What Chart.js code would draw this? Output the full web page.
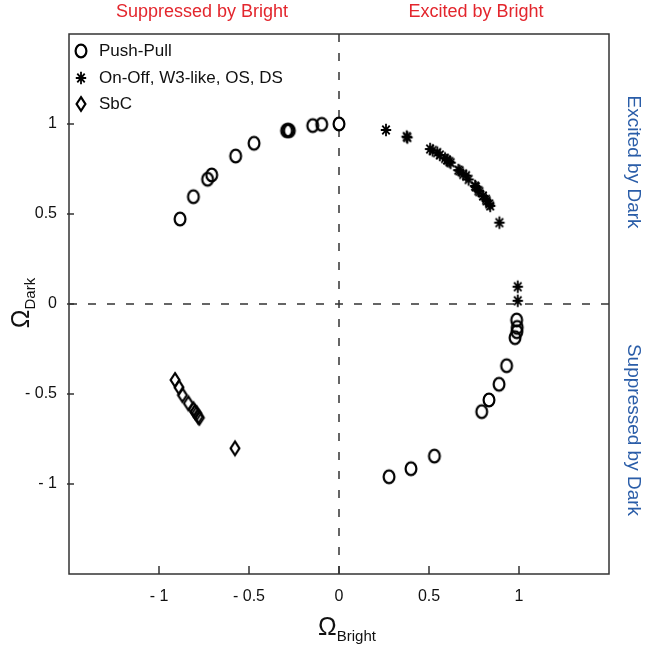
<!DOCTYPE html>
<html lang="en">
<head>
    <meta charset="UTF-8">
    <title>Omega Bright vs Dark</title>
    <script src="https://cdn.jsdelivr.net/npm/chart.js"></script>
    <style>
        body { margin: 0; padding: 0; background: #fff; }
        .chart-container { position: relative; width: 652px; height: 645px; }
    </style>
</head>
<body>
    <div class="chart-container">
        <canvas id="omegaChart"></canvas>
    </div>

    <script>
        // data (x = Omega Bright, y = Omega Dark)
        const pushPullX = [-0.883, -0.809, -0.730, -0.707, -0.574, -0.472, -0.291, -0.276, -0.283, -0.146, -0.096, 0.0,
                           0.987, 0.990, 0.988, 0.978, 0.931, 0.889, 0.833, 0.793, 0.530, 0.400, 0.278];
        const pushPullY = [0.472, 0.596, 0.693, 0.717, 0.822, 0.893, 0.963, 0.963, 0.965, 0.991, 0.998, 1.0,
                           -0.089, -0.130, -0.154, -0.187, -0.343, -0.446, -0.533, -0.598, -0.845, -0.915, -0.960];

        const onOffX = [0.261, 0.376, 0.380, 0.506, 0.520, 0.546, 0.560, 0.589, 0.600, 0.613, 0.620, 0.663, 0.670,
                        0.690, 0.706, 0.720, 0.756, 0.760, 0.774, 0.780, 0.800, 0.817, 0.820, 0.835, 0.840, 0.891, 0.993, 0.993];
        const onOffY = [0.967, 0.930, 0.925, 0.861, 0.853, 0.841, 0.828, 0.809, 0.800, 0.791, 0.785, 0.744, 0.740,
                        0.720, 0.713, 0.692, 0.656, 0.650, 0.630, 0.624, 0.600, 0.581, 0.573, 0.556, 0.545, 0.452, 0.096, 0.018];

        const sbcX = [-0.911, -0.889, -0.870, -0.837, -0.809, -0.800, -0.791, -0.782, -0.776, -0.578];
        const sbcY = [-0.422, -0.463, -0.506, -0.552, -0.585, -0.600, -0.607, -0.626, -0.632, -0.802];

        const tickValues = [-1, -0.5, 0, 0.5, 1];
        const seriesLabels = ["Push-Pull", "On-Off, W3-like, OS, DS", "SbC"];

        const FONT = "'Liberation Sans', Arial, sans-serif";

        function toPoints(xs, ys) {
            return xs.map((x, i) => ({ x: x, y: ys[i] }));
        }

        // marker images, MATLAB style
        function makeMarker(kind) {
            const c = document.createElement("canvas");
            c.width = 18; c.height = 20;
            const g = c.getContext("2d");
            g.strokeStyle = "#000";
            g.lineWidth = 2.2;
            g.translate(9, 10);
            g.beginPath();
            if (kind === "circle") {
                g.ellipse(0, 0, 5.4, 6.4, 0, 0, Math.PI * 2);
            } else if (kind === "diamond") {
                g.moveTo(0, -6.8); g.lineTo(4.4, 0); g.lineTo(0, 6.8); g.lineTo(-4.4, 0); g.closePath();
            } else {
                g.lineWidth = 1.8;
                g.moveTo(0, -6.2); g.lineTo(0, 6.2);
                g.moveTo(-5.2, 0); g.lineTo(5.2, 0);
                g.moveTo(-3.7, -4.3); g.lineTo(3.7, 4.3);
                g.moveTo(3.7, -4.3); g.lineTo(-3.7, 4.3);
            }
            g.stroke();
            return c;
        }

        const markers = [makeMarker("circle"), makeMarker("star"), makeMarker("diamond")];

        function tickLabel(v) {
            return v < 0 ? "- " + Math.abs(v) : String(v);
        }

        const decorPlugin = {
            id: "decor",
            beforeDatasetsDraw(chart) {
                const { ctx, chartArea: a, scales } = chart;
                const x0 = scales.x.getPixelForValue(0);
                const y0 = scales.y.getPixelForValue(0);
                ctx.save();
                ctx.strokeStyle = "#333";
                ctx.lineWidth = 1.5;
                ctx.setLineDash([8, 11]);
                ctx.beginPath();
                ctx.moveTo(x0, a.top); ctx.lineTo(x0, a.bottom);
                ctx.moveTo(a.left, y0); ctx.lineTo(a.right, y0);
                ctx.stroke();
                ctx.restore();
            },
            afterDraw(chart) {
                const { ctx, chartArea: a, scales } = chart;
                ctx.save();

                // box
                ctx.strokeStyle = "#333";
                ctx.lineWidth = 1.5;
                ctx.strokeRect(a.left, a.top, a.right - a.left, a.bottom - a.top);

                // inward ticks
                ctx.beginPath();
                tickValues.forEach(v => {
                    const px = scales.x.getPixelForValue(v);
                    ctx.moveTo(px, a.bottom); ctx.lineTo(px, a.bottom - 8);
                    const py = scales.y.getPixelForValue(v);
                    ctx.moveTo(a.left - 2, py); ctx.lineTo(a.left + 5, py);
                });
                ctx.stroke();

                // legend
                ctx.fillStyle = "#111";
                ctx.font = "17px " + FONT;
                ctx.textBaseline = "middle";
                ctx.textAlign = "left";
                const legendY = [51, 78, 104];
                seriesLabels.forEach((lab, i) => {
                    const m = markers[i];
                    ctx.drawImage(m, 81 - m.width / 2, legendY[i] - m.height / 2);
                    ctx.fillText(lab, 99, legendY[i]);
                });

                // red titles on top
                ctx.fillStyle = "#e3262d";
                ctx.font = "18px " + FONT;
                ctx.textAlign = "center";
                ctx.fillText("Suppressed by Bright", 202, 12);
                ctx.fillText("Excited by Bright", 476, 12);

                // blue titles on right (rotated)
                ctx.fillStyle = "#2a5da8";
                ctx.font = "19px " + FONT;
                ctx.save();
                ctx.translate(633, 162);
                ctx.rotate(Math.PI / 2);
                ctx.fillText("Excited by Dark", 0, 0);
                ctx.restore();
                ctx.save();
                ctx.translate(633, 430);
                ctx.rotate(Math.PI / 2);
                ctx.fillText("Suppressed by Dark", 0, 0);
                ctx.restore();

                // axis titles with subscripts
                ctx.fillStyle = "#111";
                ctx.textAlign = "left";
                ctx.textBaseline = "alphabetic";
                ctx.font = "25px " + FONT;
                const omW = ctx.measureText("\u03A9").width;
                ctx.font = "15px " + FONT;
                const brW = ctx.measureText("Bright").width;
                let sx = 347 - (omW + brW) / 2;
                ctx.font = "25px " + FONT;
                ctx.fillText("\u03A9", sx, 635);
                ctx.font = "15px " + FONT;
                ctx.fillText("Bright", sx + omW, 641);

                const dkW = ctx.measureText("Dark").width;
                ctx.save();
                ctx.translate(29, 303);
                ctx.rotate(-Math.PI / 2);
                let sy = -(omW + dkW) / 2;
                ctx.font = "25px " + FONT;
                ctx.fillText("\u03A9", sy, 0);
                ctx.font = "15px " + FONT;
                ctx.fillText("Dark", sy + omW, 6);
                ctx.restore();

                ctx.restore();
            }
        };

        function setTicks(scale) {
            scale.ticks = tickValues.map(v => ({ value: v }));
        }

        const ctx = document.getElementById("omegaChart").getContext("2d");
        new Chart(ctx, {
            type: "scatter",
            data: {
                datasets: [
                    { label: seriesLabels[0], data: toPoints(pushPullX, pushPullY), pointStyle: markers[0] },
                    { label: seriesLabels[1], data: toPoints(onOffX, onOffY), pointStyle: markers[1] },
                    { label: seriesLabels[2], data: toPoints(sbcX, sbcY), pointStyle: markers[2] }
                ]
            },
            options: {
                responsive: true,
                maintainAspectRatio: false,
                animation: false,
                layout: { padding: { top: 34, right: 43, left: 0, bottom: 0 } },
                plugins: { legend: { display: false }, tooltip: { enabled: false } },
                scales: {
                    x: {
                        type: "linear", min: -1.5, max: 1.5,
                        afterBuildTicks: setTicks,
                        afterFit: s => { s.height = 71; },
                        grid: { display: false, drawTicks: false },
                        border: { display: false },
                        ticks: { padding: 13, color: "#111", font: { size: 16, family: FONT }, callback: tickLabel }
                    },
                    y: {
                        type: "linear", min: -1.5, max: 1.5,
                        afterBuildTicks: setTicks,
                        afterFit: s => { s.width = 69; },
                        grid: { display: false, drawTicks: false },
                        border: { display: false },
                        ticks: { padding: 12, color: "#111", font: { size: 16, family: FONT }, callback: tickLabel }
                    }
                }
            },
            plugins: [decorPlugin]
        });
    </script>
</body>
</html>
